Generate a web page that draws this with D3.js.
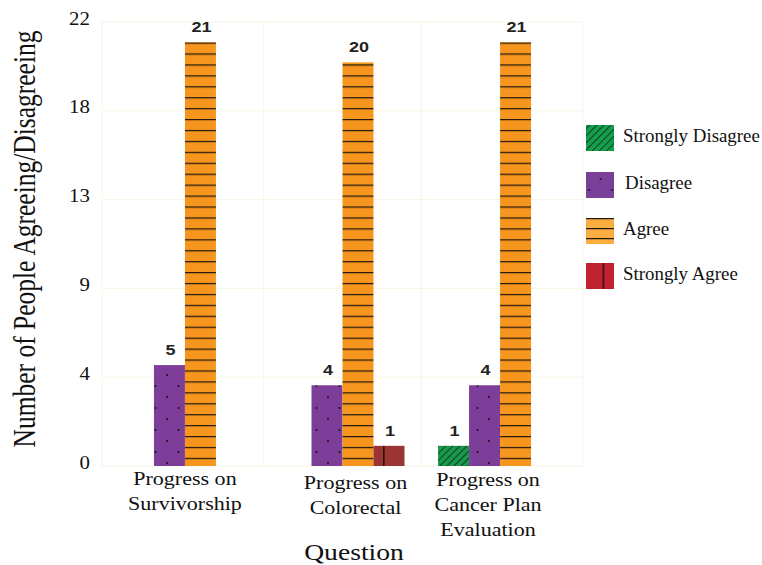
<!DOCTYPE html>
<html>
<head>
<meta charset="utf-8">
<script src="https://cdn.jsdelivr.net/npm/d3@7"></script>
<style>
    body { margin: 0; background: #fff; }
    svg { display: block; }
    .serif { font-family: "Liberation Serif", "Times New Roman", serif; fill: #111; }
    .val { font-family: "Liberation Sans", Arial, sans-serif; font-weight: bold; fill: #222; }
</style>
</head>
<body>
<div id="chart-area"></div>
<script>
// survey answers per question
const questions = ["Progress on Survivorship", "Progress on Colorectal", "Progress on Cancer Plan Evaluation"];
const questionLines = [["Progress on", "Survivorship"], ["Progress on", "Colorectal"], ["Progress on", "Cancer Plan", "Evaluation"]];
const responses = ["Strongly Disagree", "Disagree", "Agree", "Strongly Agree"];
const stronglyDisagree = [0, 0, 1];
const disagree = [5, 4, 4];
const agree = [21, 20, 21];
const stronglyAgree = [0, 1, 0];
const yTicks = [0, 4.4, 8.8, 13.2, 17.6, 22];

const counts = [stronglyDisagree, disagree, agree, stronglyAgree];

const width = 762, height = 565;
const plot = { left: 102, right: 583, top: 22, bottom: 466 };

const svg = d3.select("#chart-area").append("svg")
    .attr("width", width)
    .attr("height", height);

const defs = svg.append("defs");

// fill patterns, one set for the bars and one for the legend swatches
function makePattern(id, kind, bg, px, py, period) {
    let p = defs.append("pattern")
        .attr("id", id)
        .attr("patternUnits", "userSpaceOnUse")
        .attr("x", px)
        .attr("y", py);
    if (kind === "hatch") {
        p.attr("width", 5).attr("height", 5).attr("patternTransform", "rotate(45)");
        p.append("rect").attr("width", 5).attr("height", 5).attr("fill", bg);
        p.append("line").attr("x1", 0).attr("y1", 0).attr("x2", 0).attr("y2", 5)
            .attr("stroke", "#111").attr("stroke-width", 1.3);
    } else if (kind === "dots") {
        p.attr("width", 23).attr("height", 22);
        p.append("rect").attr("width", 23).attr("height", 22).attr("fill", bg);
        p.append("circle").attr("cx", 6).attr("cy", 1).attr("r", 1).attr("fill", "#111");
        p.append("circle").attr("cx", 17.5).attr("cy", 12).attr("r", 1).attr("fill", "#111");
    } else if (kind === "hlines") {
        p.attr("width", 40).attr("height", period);
        p.append("rect").attr("width", 40).attr("height", period).attr("fill", bg);
        p.append("line").attr("x1", 0).attr("x2", 40).attr("y1", 0.6).attr("y2", 0.6)
            .attr("stroke", "#231a0e").attr("stroke-width", 1.4);
    } else if (kind === "vline") {
        p.attr("width", 40).attr("height", 40);
        p.append("rect").attr("width", 40).attr("height", 40).attr("fill", bg);
        p.append("line").attr("x1", 0.8).attr("x2", 0.8).attr("y1", 0).attr("y2", 40)
            .attr("stroke", "#2a0d0d").attr("stroke-width", 1.5);
    }
}

const barColors = ["#17984a", "#7c3e98", "#f7961e", "#9c3433"];
const legendColors = ["#14a04a", "#7a3f99", "#fbad3f", "#c1222f"];

makePattern("bar-0", "hatch", barColors[0], 0, 0);
makePattern("bar-1", "dots", barColors[1], 0, 0);
makePattern("bar-2", "hlines", barColors[2], 0, 42.5, 10.93);
makePattern("bar-3", "vline", barColors[3], 383, 0);
makePattern("legend-0", "hatch", legendColors[0], 0, 0);
makePattern("legend-1", "dots", legendColors[1], 594.7, 178);
makePattern("legend-2", "hlines", legendColors[2], 0, 228, 10);
makePattern("legend-3", "vline", legendColors[3], 602.5, 0);

// scales
const x0 = d3.scaleBand()
    .domain(questions)
    .range([plot.left, plot.right])
    .paddingInner(0.213)
    .paddingOuter(0.133);

const x1 = d3.scaleBand()
    .domain(responses)
    .range([0, x0.bandwidth()]);

const y = d3.scaleLinear()
    .domain([0, 22])
    .range([plot.bottom, plot.top]);

// faint grid
const grid = svg.append("g").attr("class", "grid");
grid.selectAll(".hgrid")
    .data(yTicks)
    .enter().append("line")
    .attr("x1", plot.left).attr("x2", plot.right)
    .attr("y1", d => y(d)).attr("y2", d => y(d))
    .attr("stroke", "#f6f6e6");

let step = x0.step();
let vlines = [plot.left, plot.right];
questions.slice(1).forEach(q => vlines.push(x0(q) - (step - x0.bandwidth()) / 2));
grid.selectAll(".vgrid")
    .data(vlines)
    .enter().append("line")
    .attr("x1", d => d).attr("x2", d => d)
    .attr("y1", plot.top).attr("y2", plot.bottom)
    .attr("stroke", "#f6f6e6");

// y axis, no line, only labels
const yAxis = d3.axisLeft(y)
    .tickValues(yTicks)
    .tickFormat(d => Math.round(d))
    .tickSize(0);

const yG = svg.append("g")
    .attr("transform", "translate(" + plot.left + ",0)")
    .call(yAxis);
yG.select(".domain").remove();
yG.selectAll("text")
    .attr("class", "serif")
    .attr("x", 0)
    .attr("dy", "0.32em")
    .attr("transform", "translate(-12,-4) scale(1.1,1)")
    .style("font-size", "19px")
    .style("font-family", "'Liberation Serif', 'Times New Roman', serif")
    .attr("fill", "#111");

// bars
let flat = [];
questions.forEach((q, qi) => {
    responses.forEach((r, ri) => {
        flat.push({ question: q, response: r, ri: ri, value: counts[ri][qi] });
    });
});
let shown = flat.filter(d => d.value > 0);

svg.selectAll(".bar")
    .data(shown)
    .enter().append("rect")
    .attr("class", "bar")
    .attr("x", d => x0(d.question) + x1(d.response))
    .attr("y", d => y(d.value))
    .attr("width", x1.bandwidth())
    .attr("height", d => y(0) - y(d.value))
    .attr("fill", d => "url(#bar-" + d.ri + ")");

svg.selectAll(".val")
    .data(shown)
    .enter().append("text")
    .attr("class", "val")
    .attr("text-anchor", "middle")
    .attr("transform", d => "translate(" + (x0(d.question) + x1(d.response) + x1.bandwidth() / 2 + 1) + "," + (y(d.value) - 10) + ") scale(1.2,1)")
    .style("font-size", "15px")
    .text(d => d.value);

// question labels (the source nudges a couple of them)
const labelShift = [0, 13, -12];
const labelDrop = [0, 4, 1];
questions.forEach((q, i) => {
    let cx = x0(q) + x0.bandwidth() / 2 + labelShift[i];
    questionLines[i].forEach((line, li) => {
        svg.append("text")
            .attr("class", "serif")
            .attr("text-anchor", "middle")
            .attr("transform", "translate(" + cx + "," + (485 + labelDrop[i] + li * 25) + ") scale(1.16,1)")
            .style("font-size", "19px")
            .text(line);
    });
});

// axis titles
svg.append("text")
    .attr("class", "serif")
    .attr("text-anchor", "middle")
    .attr("transform", "translate(354,560) scale(1.2,1)")
    .style("font-size", "23px")
    .text("Question");

svg.append("text")
    .attr("class", "serif")
    .attr("text-anchor", "middle")
    .attr("transform", "translate(35,239) rotate(-90) scale(1,1.22)")
    .style("font-size", "25.5px")
    .text("Number of People Agreeing/Disagreeing");

// legend
const legend = svg.append("g").attr("class", "legend");
const legendTop = [125, 172, 218, 263];
responses.forEach((r, i) => {
    legend.append("rect")
        .attr("x", 586)
        .attr("y", legendTop[i])
        .attr("width", 28)
        .attr("height", 26)
        .attr("fill", "url(#legend-" + i + ")");
    legend.append("text")
        .attr("class", "serif")
        .attr("transform", "translate(" + (i === 1 ? 625 : 623) + "," + (legendTop[i] + 17) + ") scale(1.05,1)")
        .style("font-size", "18px")
        .text(r);
});
</script>
</body>
</html>
